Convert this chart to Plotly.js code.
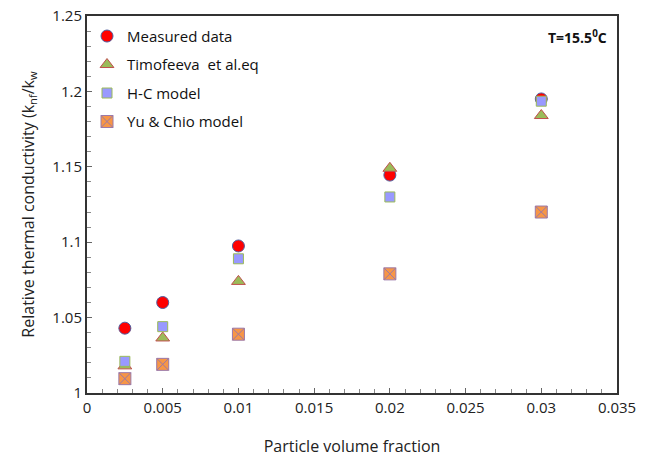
<!DOCTYPE html>
<html><head><meta charset="utf-8">
<script src="https://cdn.plot.ly/plotly-3.0.1.min.js"></script>
<style>body{margin:0;background:#fff}#c{width:650px;height:457px}</style>
</head><body><div id="c"></div>
<script>
const fraction = [0.0025, 0.005, 0.01, 0.02, 0.03];
const measured = [1.043, 1.060, 1.0975, 1.1445, 1.195];
const timofeeva = [1.018, 1.0365, 1.074, 1.149, 1.184];
const hcModel = [1.021, 1.044, 1.089, 1.130, 1.1935];
const yuChio = [1.0095, 1.019, 1.039, 1.079, 1.120];

const F = "Open Sans, Noto Sans, sans-serif";
const traces = [
  {name: "Measured data", x: fraction, y: measured, legendgroup: "a",
   marker: {symbol: "circle", size: 12, color: "#FF0000", line: {color: "#4F5D9E", width: 1}}},
  {name: "Timofeeva  et al.eq", x: fraction, y: timofeeva, legendgroup: "b",
   marker: {symbol: "triangle-up", size: 12, color: "#9BBB59", line: {color: "#C0504D", width: 1}}},
  {name: "H-C model", x: fraction, y: hcModel, legendgroup: "c",
   marker: {symbol: "square", size: 10, color: "#9999FF", line: {color: "#9BBB59", width: 1}}},
  {name: "Yu & Chio model", x: fraction, y: yuChio, legendgroup: "d",
   marker: {symbol: "square-x", size: 12, color: "#F79646", line: {color: "#9A78A8", width: 1}}}
].map(t => Object.assign({type: "scatter", mode: "markers"}, t));

const layout = {
  width: 650, height: 457,
  margin: {l: 87, r: 33, t: 16, b: 64},
  paper_bgcolor: "#fff", plot_bgcolor: "#fff",
  font: {family: F, size: 15, color: "#222"},
  showlegend: true,
  legend: {x: 0.0, y: 0.99, xanchor: "left", yanchor: "top", bgcolor: "rgba(0,0,0,0)",
           font: {size: 15, color: "#111"}, tracegroupgap: 6, itemwidth: 30},
  xaxis: {range: [0, 0.035], dtick: 0.005, showgrid: false, zeroline: false,
          showline: true, linecolor: "#333", linewidth: 2, mirror: true,
          ticks: "inside", ticklen: 5, tickcolor: "#666",
          minor: {dtick: 0.001, ticks: "inside", ticklen: 4, tickcolor: "#888"},
          tickfont: {size: 15, color: "#222"},
          title: {text: "Particle volume fraction", font: {size: 16, color: "#222"}, standoff: 30}},
  yaxis: {range: [1, 1.25], dtick: 0.05, showgrid: false, zeroline: false,
          showline: true, linecolor: "#333", linewidth: 2, mirror: true,
          ticks: "inside", ticklen: 5, tickcolor: "#666",
          minor: {dtick: 0.01, ticks: "inside", ticklen: 4, tickcolor: "#888"},
          tickfont: {size: 15, color: "#222"},
          title: {text: "Relative thermal conductivity (k<sub>nf</sub>/k<sub>w</sub>", font: {size: 16, color: "#222"}, standoff: 14}},
  annotations: [{text: "<b>T=15.5<sup>0</sup>C</b>", xref: "paper", yref: "paper", x: 0.985, y: 0.975,
                 xanchor: "right", yanchor: "top", showarrow: false, font: {size: 14, color: "#111"}}]
};
Plotly.newPlot("c", traces, layout, {displayModeBar: false});
</script></body></html>
